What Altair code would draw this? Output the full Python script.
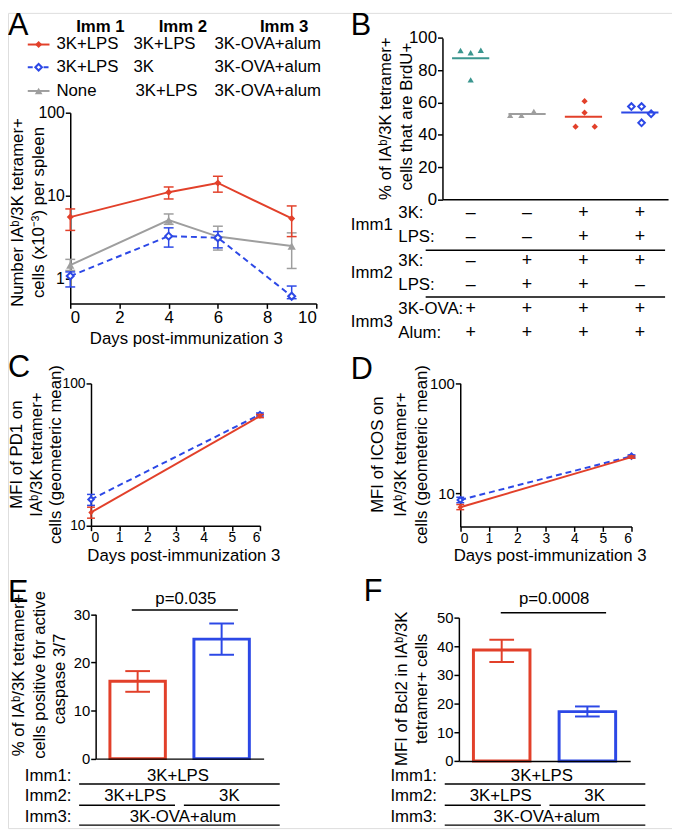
import altair as alt
import pandas as pd

W, H = 672, 825
def P(v):
    return v - 8

RED = "#E2402A"
BLUE = "#2C48E6"
GRAY = "#9E9E9E"
TEAL = "#3B968F"
FONT = "Liberation Sans"
TS = 17  # general text size

# ---------------- data ----------------
# Panel A (log scale, cells x10^-3 per spleen)
days_A = [0, 4, 6, 9]
a_red_mean = [5.5, 11.0, 14.2, 5.3]
a_red_lo = [3.8, 9.1, 11.0, 3.2]
a_red_hi = [6.9, 12.7, 17.1, 7.5]
a_blue_mean = [1.07, 3.24, 3.1, 0.61]
a_blue_lo = [0.79, 2.39, 2.34, 0.57]
a_blue_hi = [1.2, 4.08, 3.68, 0.81]
a_gray_mean = [1.45, 5.05, 3.2, 2.46]
a_gray_lo = [1.25, 4.5, 2.2, 1.32]
a_gray_hi = [1.7, 6.0, 4.27, 3.55]

legend_imm1 = ["3K+LPS", "3K+LPS", "None"]
legend_imm2 = ["3K+LPS", "3K", "3K+LPS"]
legend_imm3 = ["3K-OVA+alum", "3K-OVA+alum", "3K-OVA+alum"]

# Panel B (% BrdU+)
b_groups = [0, 0, 0, 0, 1, 1, 1, 2, 2, 2, 2, 3, 3, 3, 3]
b_values = [92.2, 90.8, 92.4, 74.0, 52.0, 52.0, 54.5, 60.8, 53.7, 45.0, 45.0, 57.5, 57.5, 53.0, 47.4]
b_jitter = [-0.18, 0.0, 0.18, 0.0, -0.3, -0.1, 0.12, 0.02, 0.02, -0.14, 0.2, -0.15, 0.03, 0.2, 0.03]
b_row_labels = ["3K:", "LPS:", "3K:", "LPS:", "3K-OVA:", "Alum:"]
b_imm_labels = ["Imm1", "Imm2", "Imm3"]
b_signs = [
    ["–", "–", "+", "+"],
    ["–", "–", "+", "+"],
    ["–", "+", "+", "+"],
    ["–", "+", "+", "–"],
    ["+", "+", "+", "+"],
    ["+", "+", "+", "+"],
]

# Panel C (PD1 MFI)
days_CD = [0, 6]
c_red_mean = [12.4, 59.0]
c_red_lo = [11.3, 57.5]
c_red_hi = [13.5, 60.5]
c_blue_mean = [15.3, 60.5]
c_blue_lo = [13.9, 59.0]
c_blue_hi = [16.6, 62.0]

# Panel D (ICOS MFI)
d_red_mean = [7.47, 21.3]
d_red_lo = [7.1, 20.8]
d_red_hi = [7.9, 21.8]
d_blue_mean = [8.7, 21.7]
d_blue_lo = [8.2, 21.0]
d_blue_hi = [9.2, 22.3]

# Panels E and F (bars)
ef_groups = ["3K+LPS", "3K"]
e_mean = [16.1, 24.85]
e_lo = [13.9, 21.6]
e_hi = [18.2, 28.1]
f_mean = [38.7, 17.2]
f_lo = [34.5, 15.5]
f_hi = [42.3, 19.0]

# ---------------- helpers ----------------
dummy = pd.DataFrame({"d": [0]})

def txt(s, x, y, size=TS, align="center", angle=0, weight="normal", baseline="middle"):
    kw = dict(text=s, fontSize=size, align=align, baseline=baseline, font=FONT,
              fontWeight=weight, color="black")
    if angle:
        kw["angle"] = angle
    return alt.Chart(dummy).mark_text(**kw).encode(x=alt.value(P(x)), y=alt.value(P(y)))

def hline(x1, x2, y, sw=1.5, color="black", dash=None):
    kw = dict(color=color, strokeWidth=sw)
    if dash:
        kw["strokeDash"] = dash
    return alt.Chart(dummy).mark_rule(**kw).encode(
        x=alt.value(P(x1)), x2=alt.value(P(x2)), y=alt.value(P(y)))

def marker(x, y, color, shape, filled, size):
    if filled:
        m = alt.Chart(dummy).mark_point(shape=shape, filled=True, color=color, size=size, opacity=1)
    else:
        m = alt.Chart(dummy).mark_point(shape=shape, filled=True, fill="white", stroke=color,
                                        strokeWidth=2, size=size, opacity=1)
    return m.encode(x=alt.value(P(x)), y=alt.value(P(y)))

def ts_series(days, mean, lo, hi, xs, ys, xax, yax, color, dash, shape, filled, size, cap):
    df = pd.DataFrame({"day": days, "val": mean, "lo": lo, "hi": hi})
    X = alt.X("day:Q", scale=xs, axis=xax)
    base = alt.Chart(df)
    lkw = dict(color=color, strokeWidth=2)
    if dash:
        lkw["strokeDash"] = dash
    line = base.mark_line(**lkw).encode(x=X, y=alt.Y("val:Q", scale=ys, axis=yax))
    rule = base.mark_rule(color=color, strokeWidth=1.5).encode(
        x=X, y=alt.Y("lo:Q", scale=ys, axis=yax), y2="hi:Q")
    cap_lo = base.mark_tick(color=color, orient="horizontal", size=cap, thickness=1.5, opacity=1).encode(
        x=X, y=alt.Y("lo:Q", scale=ys, axis=yax))
    cap_hi = base.mark_tick(color=color, orient="horizontal", size=cap, thickness=1.5, opacity=1).encode(
        x=X, y=alt.Y("hi:Q", scale=ys, axis=yax))
    if filled:
        pm = base.mark_point(shape=shape, filled=True, color=color, size=size, opacity=1)
    else:
        pm = base.mark_point(shape=shape, filled=True, fill="white", stroke=color,
                             strokeWidth=2, size=size, opacity=1)
    pts = pm.encode(x=X, y=alt.Y("val:Q", scale=ys, axis=yax))
    return [line, rule, cap_lo, cap_hi, pts]

# ---------------- Panel A ----------------
xsA = alt.Scale(domain=[0, 10], range=[P(71), P(320)], nice=False, zero=False)
ysA = alt.Scale(type="log", domain=[0.5, 100], range=[P(302), P(109)], nice=False)
axA_x = alt.Axis(orient="bottom", offset=P(302) - H, values=[0, 2, 4, 6, 8, 10], title=None,
                 labelFontSize=17, labelPadding=1, grid=False)
axA_y = alt.Axis(orient="left", offset=-P(71), values=[1, 10, 100], format="d", title=None,
                 labelFontSize=16, labelPadding=1, grid=False)
A = alt.layer(
    *ts_series(days_A, a_gray_mean, a_gray_lo, a_gray_hi, xsA, ysA, axA_x, axA_y, GRAY, None, "triangle-up", True, 70, 10),
    *ts_series(days_A, a_blue_mean, a_blue_lo, a_blue_hi, xsA, ysA, axA_x, axA_y, BLUE, [6, 4], "diamond", False, 50, 10),
    *ts_series(days_A, a_red_mean, a_red_lo, a_red_hi, xsA, ysA, axA_x, axA_y, RED, None, "diamond", True, 50, 10),
)

# ---------------- Panel B ----------------
b_df = pd.DataFrame({"grp": b_groups, "val": b_values, "jit": b_jitter})
xsB = alt.Scale(domain=[0, 4], range=[P(447.7), P(676)], nice=False, zero=False)
ysB = alt.Scale(domain=[0, 100], range=[P(196.7), P(33.3)], nice=False, zero=False)
axB_x = alt.Axis(orient="bottom", offset=P(196.7) - H, labels=False, ticks=False, title=None, grid=False)
axB_y = alt.Axis(orient="left", offset=-P(447.7), values=[0, 20, 40, 60, 80, 100], title=None,
                 labelFontSize=17, labelPadding=1, grid=False)
b_styles = [(TEAL, "triangle-up", True, 40), (GRAY, "triangle-up", True, 40),
            (RED, "diamond", True, 40), (BLUE, "diamond", False, 45)]
b_layers = []
for g, (c, shp, fl, sz) in enumerate(b_styles):
    sub = alt.Chart(b_df).transform_filter(alt.datum.grp == g)
    if fl:
        pm = sub.mark_point(shape=shp, filled=True, color=c, size=sz, opacity=1)
    else:
        pm = sub.mark_point(shape=shp, filled=True, fill="white", stroke=c, strokeWidth=2, size=sz, opacity=1)
    b_layers.append(pm.transform_calculate(xp="datum.grp + 0.5 + datum.jit").encode(
        x=alt.X("xp:Q", scale=xsB, axis=axB_x), y=alt.Y("val:Q", scale=ysB, axis=axB_y)))
    b_layers.append(sub.transform_aggregate(m="mean(val)", groupby=["grp"])
                    .transform_calculate(x1="datum.grp + 0.17", x2="datum.grp + 0.83")
                    .mark_rule(color=c, strokeWidth=2)
                    .encode(x=alt.X("x1:Q", scale=xsB, axis=axB_x), x2="x2:Q",
                            y=alt.Y("m:Q", scale=ysB, axis=axB_y)))
B = alt.layer(*b_layers)

# B table
xsT = alt.Scale(domain=[0, 4], range=[P(447.7), P(676)], nice=False, zero=False)
ysT = alt.Scale(domain=[0, 5], range=[P(210.7), P(331.7)], nice=False, zero=False)
sign_rows = []
for r, row in enumerate(b_signs):
    for c, s in enumerate(row):
        sign_rows.append({"row": r, "col": c + 0.5, "sign": s})
sign_df = pd.DataFrame(sign_rows)
lab_df = pd.DataFrame({"row": list(range(6)), "label": b_row_labels})
imm_df = pd.DataFrame({"row": [0.5, 2.5, 4.55], "label": b_imm_labels})
sep_df = pd.DataFrame({"row": [1.55, 3.5]})
BT = alt.layer(
    alt.Chart(sign_df).mark_text(fontSize=18, font=FONT, color="black").encode(
        x=alt.X("col:Q", scale=xsT, axis=None), y=alt.Y("row:Q", scale=ysT, axis=None), text="sign:N"),
    alt.Chart(lab_df).mark_text(fontSize=TS, font=FONT, align="left", color="black").encode(
        x=alt.value(P(403)), y=alt.Y("row:Q", scale=ysT, axis=None), text="label:N"),
    alt.Chart(imm_df).mark_text(fontSize=TS, font=FONT, align="left", color="black").encode(
        x=alt.value(P(355)), y=alt.Y("row:Q", scale=ysT, axis=None), text="label:N"),
    alt.Chart(sep_df).mark_rule(color="black", strokeWidth=1.5).encode(
        x=alt.value(P(430.7)), x2=alt.value(P(673)), y=alt.Y("row:Q", scale=ysT, axis=None)),
)

# ---------------- Panel C ----------------
xsC = alt.Scale(domain=[0, 6], range=[P(92), P(263)], nice=False, zero=False)
ysC = alt.Scale(type="log", domain=[10, 100], range=[P(527), P(383)], nice=False)
axC_x = alt.Axis(orient="bottom", offset=P(527) - H, values=list(range(7)), title=None,
                 labelFontSize=14, labelPadding=0, grid=False)
axC_y = alt.Axis(orient="left", offset=-P(92), values=[10, 100], format="d", title=None,
                 labelFontSize=14, labelPadding=1, grid=False)
C = alt.layer(
    *ts_series(days_CD, c_blue_mean, c_blue_lo, c_blue_hi, xsC, ysC, axC_x, axC_y, BLUE, [6, 4], "diamond", False, 30, 8),
    *ts_series(days_CD, c_red_mean, c_red_lo, c_red_hi, xsC, ysC, axC_x, axC_y, RED, None, "diamond", True, 30, 8),
)

# ---------------- Panel D ----------------
xsD = alt.Scale(domain=[0, 6], range=[P(465.7), P(639)], nice=False, zero=False)
ysD = alt.Scale(type="log", domain=[5, 100], range=[P(527.7), P(382.7)], nice=False)
axD_x = alt.Axis(orient="bottom", offset=P(527.7) - H, values=list(range(7)), title=None,
                 labelFontSize=14, labelPadding=0, grid=False)
axD_y = alt.Axis(orient="left", offset=-P(465.7), values=[10, 100], format="d", title=None,
                 labelFontSize=15, labelPadding=1, grid=False)
D = alt.layer(
    *ts_series(days_CD, d_blue_mean, d_blue_lo, d_blue_hi, xsD, ysD, axD_x, axD_y, BLUE, [6, 4], "diamond", False, 30, 8),
    *ts_series(days_CD, d_red_mean, d_red_lo, d_red_hi, xsD, ysD, axD_x, axD_y, RED, None, "diamond", True, 30, 8),
)

# ---------------- Panels E, F ----------------
def bar_panel(means, lo, hi, x0, x1, y0, y1, ymax, yvals):
    df = pd.DataFrame({"grp": ef_groups, "val": means, "lo": lo, "hi": hi})
    xs = alt.Scale(domain=ef_groups, range=[P(x0), P(x1)], paddingInner=0.34, paddingOuter=0.17)
    ys = alt.Scale(domain=[0, ymax], range=[P(y0), P(y1)], nice=False, zero=False)
    xax = alt.Axis(orient="bottom", offset=P(y0) - H, labels=False, ticks=False, title=None,
                   grid=False, zindex=1)
    yax = alt.Axis(orient="left", offset=-P(x0), values=yvals, title=None, labelFontSize=15,
                   labelPadding=1, grid=False, zindex=1)
    X = alt.X("grp:N", scale=xs, axis=xax)
    layers = []
    for g, c in zip(ef_groups, [RED, BLUE]):
        sub = alt.Chart(df).transform_filter(alt.datum.grp == g)
        layers.append(sub.mark_bar(fill="white", stroke=c, strokeWidth=3).encode(
            x=X, y=alt.Y("val:Q", scale=ys, axis=yax)))
    for g, c in zip(ef_groups, [RED, BLUE]):
        sub = alt.Chart(df).transform_filter(alt.datum.grp == g)
        layers.append(sub.mark_rule(color=c, strokeWidth=2).encode(
            x=X, y=alt.Y("lo:Q", scale=ys, axis=yax), y2="hi:Q"))
        for f in ["lo", "hi"]:
            layers.append(sub.mark_tick(color=c, orient="horizontal", size=25, thickness=2, opacity=1).encode(
                x=X, y=alt.Y(f + ":Q", scale=ys, axis=yax)))
    return alt.layer(*layers)

E = bar_panel(e_mean, e_lo, e_hi, 96.7, 266.7, 762.7, 616.7, 30, [0, 10, 20, 30])
F = bar_panel(f_mean, f_lo, f_hi, 464.3, 637.7, 765, 620, 50, [0, 10, 20, 30, 40, 50])

# ---------------- annotations ----------------
ann = []
# panel letters
for s, x, y in [("A", 8, 30), ("B", 355, 30), ("C", 8, 376), ("D", 355, 378), ("E", 8, 604), ("F", 368, 603)]:
    ann.append(txt(s, x, y, size=31, align="left", baseline="alphabetic"))

# A legend
for s, x in [("Imm 1", 101.5), ("Imm 2", 185), ("Imm 3", 287.5)]:
    ann.append(txt(s, x, 22, size=TS, weight="bold"))
leg_y = [40, 63, 87]
leg_style = [(RED, None, "diamond", True, 50), (BLUE, [5, 3], "diamond", False, 45), (GRAY, None, "triangle-up", True, 60)]
for i, (c, dash, shp, fl, sz) in enumerate(leg_style):
    ann.append(hline(28, 50, leg_y[i], sw=2, color=c, dash=dash))
    ann.append(marker(39, leg_y[i], c, shp, fl, sz))
    ann.append(txt(legend_imm1[i], 57, leg_y[i], align="left"))
    ann.append(txt(legend_imm2[i], 135 if i < 2 else 137, leg_y[i], align="left"))
    ann.append(txt(legend_imm3[i], 217, leg_y[i], align="left"))

# axis titles
IAb = "IA\u1d47/3K"
ann += [
    txt("Number " + IAb + " tetramer+", 18, 210, angle=270),
    txt("cells (x10\u207b\u00b3) per spleen", 39, 210, angle=270),
    txt("Days post-immunization 3", 188.5, 338),
    txt("% of " + IAb + " tetramer+", 391, 115, angle=270),
    txt("cells that are BrdU+", 412, 113, angle=270),
    txt("MFI of PD1 on", 17, 455, angle=270),
    txt(IAb + " tetramer+", 37, 455, angle=270),
    txt("cells (geometeric mean)", 57, 455, angle=270),
    txt("Days post-immunization 3", 186, 558),
    txt("MFI of ICOS on", 383, 455, angle=270),
    txt(IAb + " tetramer+", 406, 455, angle=270),
    txt("cells (geometeric mean)", 427, 455, angle=270),
    txt("Days post-immunization 3", 556.7, 558),
    txt("% of " + IAb + " tetramer+", 19, 678, angle=270),
    txt("cells positive for active", 40, 678, angle=270),
    txt("caspase 3/7", 61, 682, angle=270),
    txt("MFI of Bcl2 in " + IAb, 406.7, 692, angle=270),
    txt("tetramer+ cells", 426.7, 692, angle=270),
]

# p-values
ann += [txt("p=0.035", 188, 601), hline(133.3, 240.7, 612.3),
        txt("p=0.0008", 560.7, 601.7), hline(506.7, 613.3, 615)]

# E / F tables
for (lx, c1, c2a, c2b, c3, x0, xm1, xm2, x1) in [
        (25, 180, 136.7, 232, 185, 80, 177, 186, 283),
        (395, 548.3, 506.7, 601.7, 553.3, 450, 547.3, 556, 653)]:
    ann += [
        txt("Imm1:", lx, 780, align="left"), txt("3K+LPS", c1, 780), hline(x0, x1, 788.3),
        txt("Imm2:", lx, 801, align="left"), txt("3K+LPS", c2a, 801), txt("3K", c2b, 801),
        hline(x0, xm1, 810), hline(xm2, x1, 810),
        txt("Imm3:", lx, 821.7, align="left"), txt("3K-OVA+alum", c3, 821.7), hline(x0, x1, 830),
    ]

chart = (
    alt.layer(A, B, BT, C, D, E, F, *ann)
    .resolve_scale(x="independent", y="independent")
    .resolve_axis(x="independent", y="independent")
    .properties(width=W, height=H, padding=0, autosize=alt.AutoSizeParams(type="none"))
    .configure_view(stroke=None)
    .configure(font=FONT)
    .configure_axis(domainColor="black", tickColor="black", labelColor="black", domainWidth=1.5,
                    tickWidth=1.5, tickSize=5, labelFont=FONT, grid=False)
)

chart.save("out.html", embed_options={"renderer": "svg", "actions": False})
